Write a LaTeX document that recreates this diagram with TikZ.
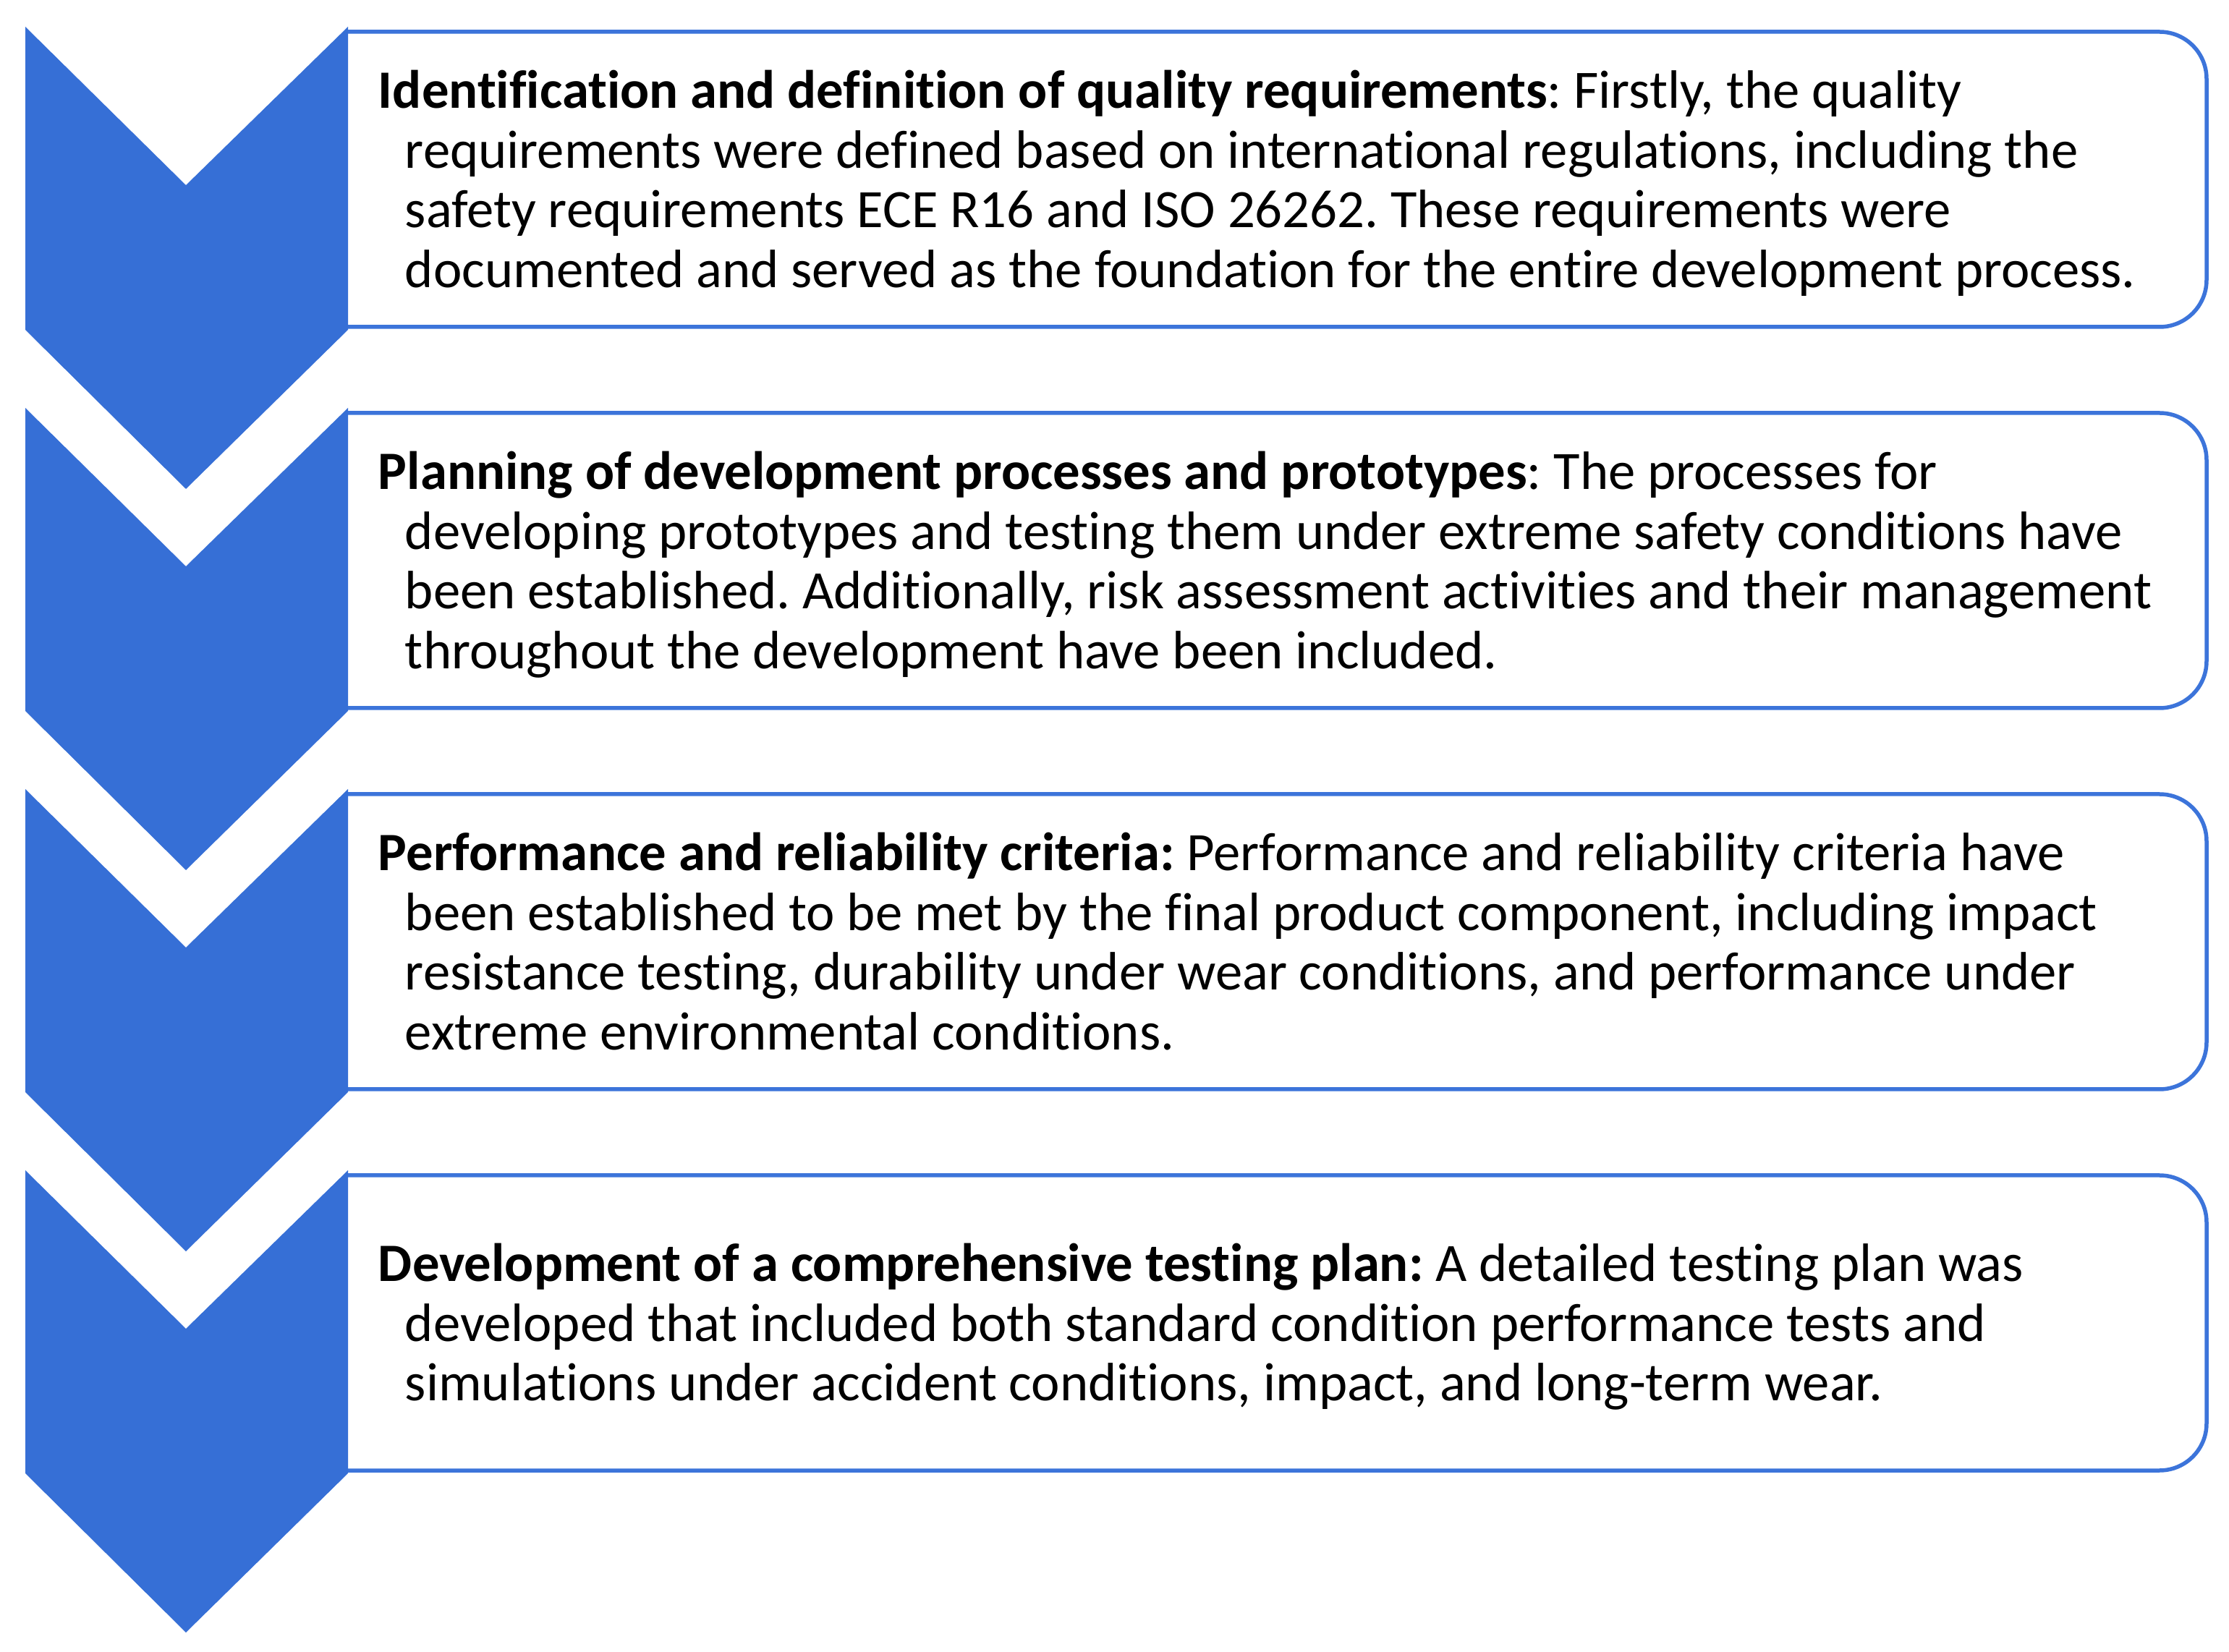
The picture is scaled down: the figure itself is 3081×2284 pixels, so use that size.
\documentclass[tikz,border=0pt]{standalone}
\usepackage{fontspec}
\setmainfont{Carlito}[RawFeature=-liga]
\definecolor{chevblue}{RGB}{54,111,214}
\definecolor{lineblue}{RGB}{60,116,218}
\tikzset{
  chev/.style={fill=chevblue, draw=none},
  stepframe/.style={draw=lineblue, line width=0.55pt, rounded corners=6.5pt},
  txt/.style={anchor=base west, inner sep=0pt, font=\fontsize{7.47pt}{8.25pt}\selectfont},
}
\frenchspacing
\newcommand{\boxlines}[1]{\vtop{\baselineskip=8.25pt\lineskiplimit=-10pt\lineskip=0pt #1}}
\newcommand{\ind}{\hspace*{3.7pt}}
\begin{document}
\begin{tikzpicture}[x=0.1pt, y=-0.1pt]
\useasboundingbox (0,0) rectangle (3081,2284);
\foreach \i in {0,1,2,3}{
  \pgfmathsetmacro{\t}{527*\i}
  \draw[stepframe] (481,44+\t) -- (3050,44+\t) -- (3050,452+\t) -- (481,452+\t);
  \fill[chev] (35,37+\t) -- (257,256+\t) -- (481,37+\t) -- (481,456+\t) -- (257,676+\t) -- (35,456+\t) -- cycle;
}
\node[txt] (t1) at (521,150) {\boxlines{%
\hbox{\textbf{Identification and definition of quality requirements}: Firstly, the quality}
\hbox{\ind requirements were defined based on international regulations, including the}
\hbox{\ind safety requirements ECE R16 and ISO 26262. These requirements were}
\hbox{\ind documented and served as the foundation for the entire development process.}}};
\node[txt] (t2) at (521,677) {\boxlines{%
\hbox{\textbf{Planning of development processes and prototypes}: The processes for}
\hbox{\ind developing prototypes and testing them under extreme safety conditions have}
\hbox{\ind been established. Additionally, risk assessment activities and their management}
\hbox{\ind throughout the development have been included.}}};
\node[txt] (t3) at (521,1204) {\boxlines{%
\hbox{\textbf{Performance and reliability criteria:} Performance and reliability criteria have}
\hbox{\ind been established to be met by the final product component, including impact}
\hbox{\ind resistance testing, durability under wear conditions, and performance under}
\hbox{\ind extreme environmental conditions.}}};
\node[txt] (t4) at (521,1772) {\boxlines{%
\hbox{\textbf{Development of a comprehensive testing plan:} A detailed testing plan was}
\hbox{\ind developed that included both standard condition performance tests and}
\hbox{\ind simulations under accident conditions, impact, and long-term wear.}}};
\end{tikzpicture}
\end{document}
